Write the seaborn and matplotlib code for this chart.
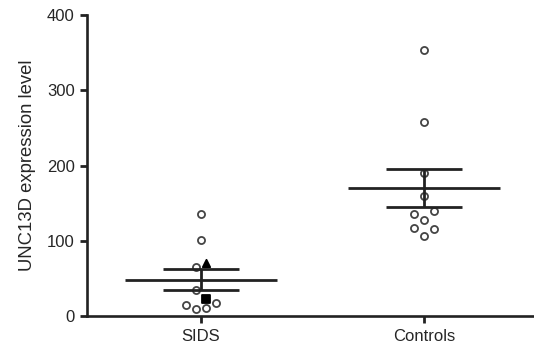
import numpy as np
import pandas as pd
import matplotlib
matplotlib.use("Agg")
import matplotlib.pyplot as plt
import seaborn as sns

# --- dados ---
grupos = ["SIDS", "Controls"]
sids_valores = [136, 101, 65, 70, 34, 23, 14, 9, 11, 17]
sids_marcador = ["o", "o", "o", "^", "o", "s", "o", "o", "o", "o"]
sids_desvio = [0, 0, -1, 1, -1, 1, -3, -1, 1, 3]
controls_valores = [354, 258, 190, 160, 140, 135, 128, 117, 116, 106]
controls_marcador = ["o"] * 10
controls_desvio = [0, 0, 0, 0, 2, -2, 0, -2, 2, 0]

df = pd.DataFrame({
    "grupo": ["SIDS"] * len(sids_valores) + ["Controls"] * len(controls_valores),
    "valor": sids_valores + controls_valores,
    "marcador": sids_marcador + controls_marcador,
    "desvio": sids_desvio + controls_desvio,
})
passo = 0.0225  # deslocamento horizontal para pontos sobrepostos
df["x"] = df["grupo"].map({g: i for i, g in enumerate(grupos)}) + df["desvio"] * passo

sns.set_style("ticks")
plt.rcParams["font.family"] = ["Liberation Sans", "DejaVu Sans"]

fig = plt.figure(figsize=(5.34, 3.51), dpi=100)
ax = fig.add_axes([0.1635, 0.0997, 0.8365, 0.8575])

cor = "#222222"
preenchido = {"o": "white", "^": "black", "s": "black"}
borda = {"o": "#444444", "^": "black", "s": "black"}
tamanho = {"o": 26, "^": 28, "s": 26}
for m, sub in df.groupby("marcador"):
    sns.scatterplot(data=sub, x="x", y="valor", marker=m, s=tamanho[m],
                    facecolor=preenchido[m], edgecolor=borda[m], linewidth=1.3,
                    ax=ax, zorder=2, legend=False)

# média e erro padrão
resumo = df.groupby("grupo")["valor"].agg(["mean", "sem"])
for i, g in enumerate(grupos):
    media, ep = resumo.loc[g, "mean"], resumo.loc[g, "sem"]
    ax.hlines(media, i - 0.34, i + 0.34, color=cor, lw=2, zorder=3)
    ax.hlines([media - ep, media + ep], i - 0.17, i + 0.17, color=cor, lw=2, zorder=3)
    ax.vlines(i, media - ep, media + ep, color=cor, lw=2, zorder=3)

ax.set_xlim(-0.509, 1.491)
ax.set_ylim(0, 400)
ax.set_xticks(range(len(grupos)))
ax.set_xticklabels(grupos)
ax.set_yticks([0, 100, 200, 300, 400])
ax.set_xlabel("")
ax.set_ylabel("UNC13D expression level", fontsize=13.3, labelpad=8)
ax.tick_params(axis="both", labelsize=12, length=5, width=2, color=cor, pad=4)

for lado in ["top", "right"]:
    ax.spines[lado].set_visible(False)
for lado in ["left", "bottom"]:
    ax.spines[lado].set_linewidth(1.9)
    ax.spines[lado].set_color(cor)

fig.savefig("out.png", dpi=100)
